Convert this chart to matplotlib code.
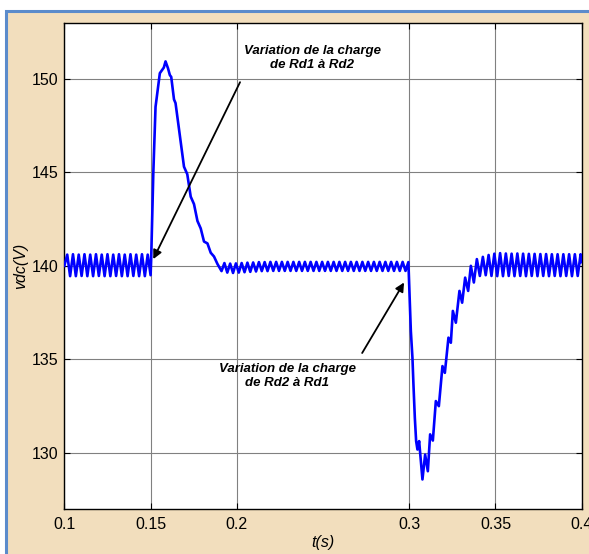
import matplotlib
matplotlib.use("Agg")
import matplotlib.pyplot as plt
from matplotlib.patches import Rectangle
import numpy as np

# DC-link voltage vdc(t) during two load steps (Rd1 -> Rd2 at 0.15 s, Rd2 -> Rd1 at 0.3 s)
HALF_PERIOD = 1.0 / 600.0          # spacing between ripple extrema (300 Hz ripple)

# Steady ripple before the first step: alternating peaks / troughs from t = 0.1017 s
seg_a_start = 0.1017
seg_a_vals = [140.60, 139.45, 140.62, 139.45, 140.60, 139.46, 140.62, 139.45,
              140.60, 139.45, 140.62, 139.46, 140.60, 139.45, 140.62, 139.45,
              140.60, 139.46, 140.62, 139.45, 140.60, 139.45, 140.62, 139.46,
              140.60, 139.45, 140.62, 139.45, 140.60, 139.50]

# Overshoot after the first load change
tr1_t = [0.1504, 0.1516, 0.1529, 0.1554, 0.1577, 0.1587, 0.1601, 0.1612,
         0.1620, 0.1636, 0.1645, 0.1665, 0.1674, 0.1694, 0.1713, 0.1733,
         0.1752, 0.1772, 0.1791, 0.1810, 0.1830, 0.1849, 0.1868, 0.1888]
tr1_v = [140.47, 144.93, 148.50, 150.30, 150.60, 150.93, 150.57, 150.20,
         150.10, 148.90, 148.70, 147.30, 146.70, 145.30, 144.90, 143.70,
         143.30, 142.40, 142.00, 141.30, 141.20, 140.70, 140.50, 140.10]

# Small ripple between the two steps, ending on the peak at 0.2995 s
seg_b_start = 0.19117
seg_b_vals = [139.72, 140.15, 139.64, 140.12, 139.62, 140.13, 139.64, 140.15,
              139.66, 140.17, 139.68, 140.18, 139.70, 140.20, 139.72, 140.20,
              139.72, 140.21, 139.73, 140.21, 139.73, 140.21, 139.73, 140.21,
              139.73, 140.21, 139.73, 140.21, 139.73, 140.21, 139.73, 140.21,
              139.73, 140.21, 139.73, 140.21, 139.73, 140.21, 139.73, 140.21,
              139.73, 140.21, 139.73, 140.21, 139.73, 140.21, 139.73, 140.21,
              139.73, 140.21, 139.73, 140.21, 139.73, 140.21, 139.73, 140.21,
              139.73, 140.21, 139.73, 140.21, 139.73, 140.21, 139.73, 140.21,
              139.73, 140.20]

# Undershoot after the second load change
tr2_t = [0.30012, 0.30093, 0.30186, 0.30244, 0.30325, 0.30400, 0.30476,
         0.30574, 0.30766, 0.30922, 0.31079, 0.31212, 0.31369, 0.31543,
         0.31717, 0.31926, 0.32065, 0.32274, 0.32413, 0.32529, 0.32703,
         0.32912, 0.33068, 0.33242, 0.33416, 0.33573, 0.33747, 0.33921,
         0.34095]
tr2_v = [138.66, 136.52, 135.09, 133.66, 131.87, 130.63, 130.18,
         130.63, 128.58, 129.91, 129.02, 130.99, 130.66, 132.77,
         132.50, 134.64, 134.28, 136.16, 135.89, 137.59, 136.96,
         138.66, 138.03, 139.37, 138.66, 140.00, 139.11, 140.36,
         139.46]

# Ripple after recovery, starting on the peak at 0.3427 s
seg_c_start = 0.34269
seg_c_vals = [140.48, 139.50, 140.58, 139.46, 140.65, 139.45, 140.68, 139.45,
              140.66, 139.46, 140.65, 139.45, 140.66, 139.46, 140.65, 139.45,
              140.64, 139.46, 140.64, 139.45, 140.63, 139.46, 140.63, 139.45,
              140.62, 139.46, 140.62, 139.45, 140.62, 139.46, 140.62, 139.45,
              140.62, 139.46, 140.62]

t_start, v_start = 0.1000, 140.00
t_end, v_end = 0.4000, 140.20

x_ticks = [0.1, 0.15, 0.2, 0.3, 0.35, 0.4]
x_tick_labels = ["0.1", "0.15", "0.2", "0.3", "0.35", "0.4"]
y_ticks = [130, 135, 140, 145, 150]
y_tick_labels = ["130", "135", "140", "145", "150"]


def ripple_times(start, n):
    return start + HALF_PERIOD * np.arange(n)


t = np.concatenate([[t_start],
                    ripple_times(seg_a_start, len(seg_a_vals)),
                    tr1_t,
                    ripple_times(seg_b_start, len(seg_b_vals)),
                    tr2_t,
                    ripple_times(seg_c_start, len(seg_c_vals)),
                    [t_end]])
v = np.concatenate([[v_start], seg_a_vals, tr1_v, seg_b_vals, tr2_v,
                    seg_c_vals, [v_end]])

plt.rcParams["font.family"] = ["Liberation Sans", "DejaVu Sans"]

W, H = 589, 554
fig = plt.figure(figsize=(W / 100, H / 100), dpi=100, facecolor="white")

# beige panel with blue frame on the top and left edges
panel = Rectangle((6.2 / W, -0.05), 1.2, 1 - 10.5 / H + 0.05,
                  transform=fig.transFigure, facecolor="#F2DEBD",
                  edgecolor="#5B8BCB", linewidth=2.2, zorder=-10)
fig.add_artist(panel)

ax = fig.add_axes([64.3 / W, 45 / H, (581.7 - 64.3) / W, (509 - 22.7) / H])
ax.set_zorder(5)
ax.set_facecolor("white")
ax.plot(t, v, color="#0000FF", linewidth=1.9, solid_joinstyle="round", zorder=3)

ax.set_xlim(0.1, 0.4)
ax.set_ylim(127, 153)
ax.set_xticks(x_ticks)
ax.set_xticklabels(x_tick_labels)
ax.set_yticks(y_ticks)
ax.set_yticklabels(y_tick_labels)
ax.tick_params(direction="in", length=4, width=0.8, top=True, right=True,
               labelsize=11.5, colors="black", pad=4)
ax.tick_params(axis="x", pad=6)
ax.grid(True, color="#808080", linewidth=0.8, linestyle="-", zorder=1)
for s in ax.spines.values():
    s.set_linewidth(1.0)
    s.set_color("black")

ax.set_xlabel("t(s)", fontstyle="italic", fontsize=11.5, labelpad=2)
ax.set_ylabel("vdc(V)", fontstyle="italic", fontsize=11.5, labelpad=3)

ax.annotate("", xy=(0.1516, 140.36), xytext=(0.2019, 149.82),
            arrowprops=dict(arrowstyle="-|>", color="black", lw=1.3,
                            mutation_scale=13, shrinkA=0, shrinkB=0), zorder=4)
ax.annotate("", xy=(0.2970, 139.11), xytext=(0.2727, 135.34),
            arrowprops=dict(arrowstyle="-|>", color="black", lw=1.3,
                            mutation_scale=13, shrinkA=0, shrinkB=0), zorder=4)

ax.text(0.2437, 151.8, "Variation de la charge\nde Rd1 à Rd2", ha="center",
        va="top", fontsize=9.5, fontweight="bold", fontstyle="italic",
        linespacing=1.25, zorder=4)
ax.text(0.2292, 134.8, "Variation de la charge\nde Rd2 à Rd1", ha="center",
        va="top", fontsize=9.5, fontweight="bold", fontstyle="italic",
        linespacing=1.25, zorder=4)

fig.savefig("out.png", dpi=100, facecolor=fig.get_facecolor())
